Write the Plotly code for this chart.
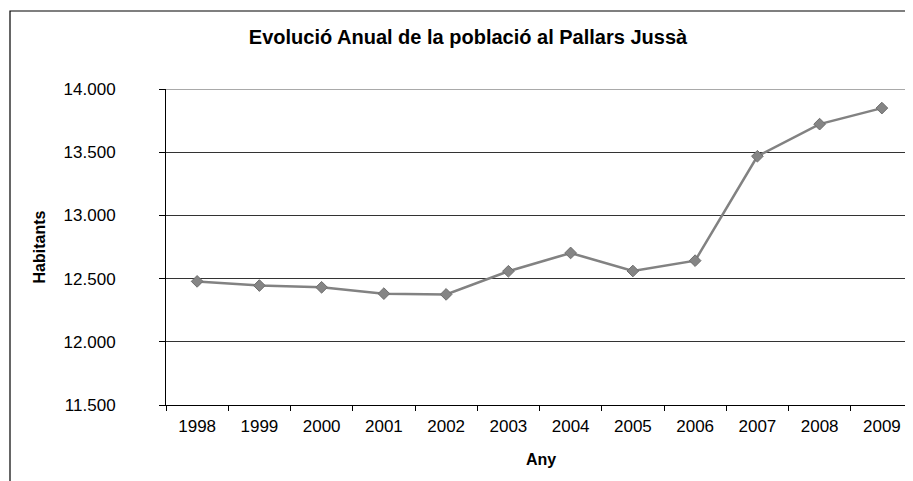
import plotly.graph_objects as go

anys = ['1998', '1999', '2000', '2001', '2002', '2003',
        '2004', '2005', '2006', '2007', '2008', '2009']
habitants = [12478, 12445, 12431, 12381, 12375, 12558,
             12703, 12560, 12642, 13468, 13722, 13849]
y_ticks = [11500, 12000, 12500, 13000, 13500, 14000]

# page body has an 8px margin, so the figure is drawn 8px right/down
W, H = 905, 473
ml, mr, mt, mb = 158, 0, 81, 76
pw, ph = W - ml - mr, H - mt - mb

fig = go.Figure()
fig.add_trace(go.Scatter(
    x=anys, y=habitants, mode='lines+markers',
    line=dict(color='#828282', width=2.5),
    marker=dict(symbol='diamond', size=9, color='#858585',
                line=dict(color='#6e6e6e', width=1)),
    showlegend=False))

fig.update_layout(
    width=W, height=H,
    margin=dict(l=ml, r=mr, t=mt, b=mb),
    paper_bgcolor='white', plot_bgcolor='white',
    separators=',.',
    font=dict(family='Liberation Sans, Arial, sans-serif', size=17, color='#000000'),
    title=dict(text='<b>Evolució Anual de la població al Pallars Jussà</b>',
               x=460 / W, xanchor='center', y=1 - 29 / H, yanchor='middle',
               font=dict(size=20)),
    shapes=[
        # chart border, cropped on the right and bottom like the picture
        dict(type='rect', xref='paper', yref='paper',
             x0=(2 - ml) / pw, x1=1.05, y0=-0.5, y1=(H - mb - 3) / ph,
             line=dict(color='black', width=1.2), layer='below'),
        dict(type='line', xref='paper', yref='y',
             x0=0, x1=1, y0=14000, y1=14000,
             line=dict(color='#8c8c8c', width=1.5)),
    ],
    annotations=[
        dict(text='<b>Habitants</b>', xref='paper', yref='paper',
             x=(30.5 - ml) / pw, y=0.5, textangle=-90, showarrow=False,
             xanchor='center', yanchor='middle', font=dict(size=16)),
        dict(text='<b>Any</b>', xref='paper', yref='paper',
             x=0.502, y=(H - mb - 451) / ph, showarrow=False,
             xanchor='center', yanchor='middle', font=dict(size=16)),
    ],
)

fig.update_xaxes(
    type='category', range=[-0.5, 11.5],
    showline=True, linecolor='black', linewidth=1,
    ticks='outside', tickson='boundaries', ticklen=5, tickcolor='black',
    ticklabelstandoff=6,
    showgrid=False, fixedrange=True)

fig.update_yaxes(
    range=[11500, 14000], tickvals=y_ticks, tickformat=',d',
    showline=True, linecolor='black', linewidth=1,
    ticks='outside', ticklen=6, tickcolor='black',
    ticklabelstandoff=40,
    showgrid=True, gridcolor='#333333', gridwidth=1,
    zeroline=False, fixedrange=True)

fig.write_html('out.html')
